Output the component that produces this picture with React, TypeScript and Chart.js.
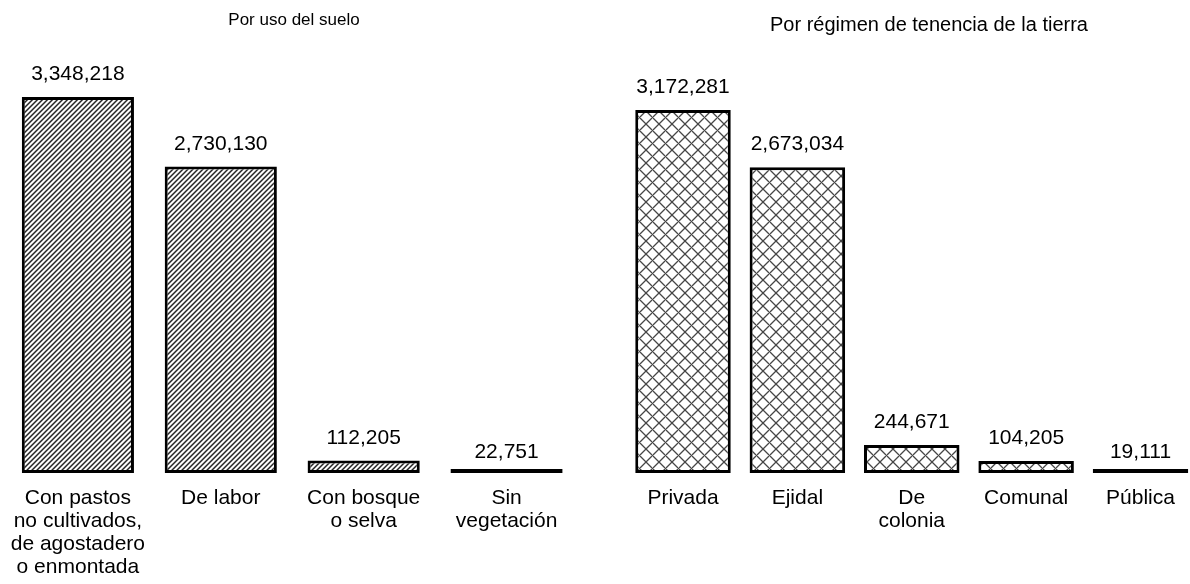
import React, { useEffect, useRef } from 'react';
import { Chart, registerables } from 'chart.js';

Chart.register(...registerables);

const FONT = '"Liberation Sans", Arial, Helvetica, sans-serif';

// ---- Data ----
const landUseTitle = 'Por uso del suelo';
const landUseLabels = [
  ['Con pastos', 'no cultivados,', 'de agostadero', 'o enmontada'],
  ['De labor'],
  ['Con bosque', 'o selva'],
  ['Sin', 'vegetación'],
];
const landUseValues = [3348218, 2730130, 112205, 22751];

const tenureTitle = 'Por régimen de tenencia de la tierra';
const tenureLabels = [['Privada'], ['Ejidal'], ['De', 'colonia'], ['Comunal'], ['Pública']];
const tenureValues = [3172281, 2673034, 244671, 104205, 19111];

// ---- Patterns ----
function makeDiagonalPattern(ctx: CanvasRenderingContext2D) {
  const P = 5;
  const c = document.createElement('canvas');
  c.width = P;
  c.height = P;
  const g = c.getContext('2d')!;
  const img = g.createImageData(P, P);
  const shades = [40, 110, 245, 255, 165];
  for (let y = 0; y < P; y++) {
    for (let x = 0; x < P; x++) {
      const v = shades[(x + y) % P];
      const i = (y * P + x) * 4;
      img.data[i] = v;
      img.data[i + 1] = v;
      img.data[i + 2] = v;
      img.data[i + 3] = 255;
    }
  }
  g.putImageData(img, 0, 0);
  return ctx.createPattern(c, 'repeat')!;
}

function makeCrossPattern(ctx: CanvasRenderingContext2D) {
  const P = 13;
  const c = document.createElement('canvas');
  c.width = P;
  c.height = P;
  const g = c.getContext('2d')!;
  const img = g.createImageData(P, P);
  for (let y = 0; y < P; y++) {
    for (let x = 0; x < P; x++) {
      const d1 = (x + y) % P;
      const d2 = (((x - y) % P) + P) % P;
      const dist = Math.min(Math.min(d1, P - d1), Math.min(d2, P - d2));
      const v = dist === 0 ? 70 : dist === 1 ? 175 : 255;
      const i = (y * P + x) * 4;
      img.data[i] = v;
      img.data[i + 1] = v;
      img.data[i + 2] = v;
      img.data[i + 3] = 255;
    }
  }
  g.putImageData(img, 0, 0);
  return ctx.createPattern(c, 'repeat')!;
}

// ---- Plugins ----
const valueLabels = {
  id: 'valueLabels',
  afterDatasetsDraw(chart: any) {
    const ctx = chart.ctx;
    const meta = chart.getDatasetMeta(0);
    const data = chart.data.datasets[0].data;
    const base = chart.scales.y.getPixelForValue(0);
    ctx.save();
    ctx.font = `21px ${FONT}`;
    ctx.fillStyle = '#000';
    ctx.textAlign = 'center';
    ctx.textBaseline = 'middle';
    meta.data.forEach((bar: any, i: number) => {
      const { x, y } = bar.getProps(['x', 'y'], true);
      const h = base - y;
      const off = Math.min(22.5, 13 + h);
      ctx.fillText(Number(data[i]).toLocaleString('en-US'), x, y - off);
    });
    ctx.restore();
  },
};

const panelTitle = {
  id: 'panelTitle',
  afterDraw(chart: any, _args: any, opts: any) {
    const ctx = chart.ctx;
    ctx.save();
    ctx.font = `${opts.size}px ${FONT}`;
    ctx.fillStyle = '#000';
    ctx.textAlign = 'center';
    ctx.textBaseline = 'middle';
    ctx.fillText(opts.text, opts.x, opts.y);
    ctx.restore();
  },
};

type PanelProps = {
  title: string;
  titleSize: number;
  labels: string[][];
  values: number[];
  pattern: 'diag' | 'cross';
  left: number;
  width: number;
  offset: boolean;
  padding: { left: number; right: number; top: number; bottom: number };
  barPercentage: number;
  titleX: number;
  titleY: number;
};

const CANVAS_H = 600;

function Panel(p: PanelProps) {
  const ref = useRef<HTMLCanvasElement>(null);
  useEffect(() => {
    const canvas = ref.current!;
    const ctx = canvas.getContext('2d')!;
    const bg = p.pattern === 'diag' ? makeDiagonalPattern(ctx) : makeCrossPattern(ctx);
    const chart = new Chart(canvas, {
      type: 'bar',
      data: {
        labels: p.labels,
        datasets: [
          {
            data: p.values,
            backgroundColor: bg,
            borderColor: '#000',
            borderWidth: 3,
            borderSkipped: false,
            barPercentage: p.barPercentage,
            categoryPercentage: 1,
            minBarLength: 4,
            clip: false,
          } as any,
        ],
      },
      options: {
        responsive: false,
        animation: false,
        layout: { padding: p.padding },
        plugins: {
          legend: { display: false },
          tooltip: { enabled: false },
          title: { display: false },
          panelTitle: { text: p.title, x: p.titleX, y: p.titleY, size: p.titleSize },
        } as any,
        scales: {
          x: {
            offset: p.offset,
            grid: { display: false, drawTicks: false },
            border: { display: false },
            ticks: {
              font: { family: FONT, size: 21, lineHeight: 23 / 21 },
              color: '#000',
              padding: 14,
              maxRotation: 0,
              autoSkip: false,
            },
          },
          y: { display: false, min: 0, max: Math.max(...p.values) },
        },
      },
      plugins: [valueLabels, panelTitle],
    });
    return () => chart.destroy();
  }, []);
  return (
    <canvas
      ref={ref}
      width={p.width}
      height={CANVAS_H}
      style={{ position: 'absolute', left: p.left, top: 0, width: p.width, height: CANVAS_H }}
    />
  );
}

export default function App() {
  return (
    <div
      style={{
        position: 'fixed',
        left: 0,
        top: 0,
        width: 1190,
        height: 584,
        overflow: 'hidden',
        background: '#fff',
      }}
    >
      <Panel
        title={landUseTitle}
        titleSize={17}
        labels={landUseLabels}
        values={landUseValues}
        pattern="diag"
        left={-4}
        width={604}
        offset={true}
        padding={{ left: 6, right: 22, top: 97, bottom: 7 }}
        barPercentage={0.785}
        titleX={298}
        titleY={20}
      />
      <Panel
        title={tenureTitle}
        titleSize={20}
        labels={tenureLabels}
        values={tenureValues}
        pattern="cross"
        left={600}
        width={590}
        offset={false}
        padding={{ left: 83, right: 49.5, top: 110, bottom: 53 }}
        barPercentage={0.835}
        titleX={329}
        titleY={25}
      />
    </div>
  );
}
